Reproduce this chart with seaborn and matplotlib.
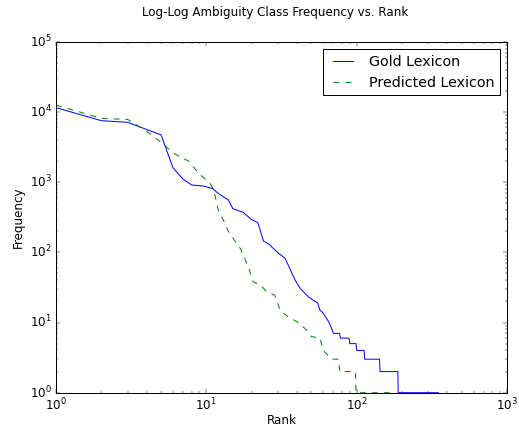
import matplotlib
matplotlib.use("Agg")
import matplotlib.pyplot as plt
import seaborn as sns

# ambiguity class frequency by rank
gold_rank = [1, 2, 3, 5, 6, 7, 8, 9.5, 11, 12, 14, 15, 17.6, 20, 22, 24, 26, 29.4,
             33.4, 36, 39, 42, 48, 55, 57, 60, 65, 67, 70, 77, 78, 89, 90, 99, 100,
             112, 113, 142, 143, 188, 189, 350]
gold_freq = [11500, 7500, 7100, 4700, 1600, 1100, 910, 880, 810, 690, 556, 420, 370,
             292, 265, 145, 131, 102, 82, 58, 40, 30.7, 23, 19, 15, 13.5, 10.3, 9, 7,
             7, 6, 6, 5, 5, 4, 4, 3, 3, 2, 2, 1, 1]

pred_rank = [1, 2, 3, 4, 5, 6, 7.6, 9, 10.6, 11.2, 12, 13, 14, 15, 16.8, 18, 19.5,
             20.5, 23, 25, 28.5, 31, 35, 40, 46, 50, 57, 60, 68, 76, 77, 98, 99, 170]
pred_freq = [12500, 8100, 7800, 5300, 3700, 2600, 2000, 1300, 960, 770, 400, 288, 200,
             160, 114, 82, 53, 38, 34, 28, 24.5, 15, 12, 10.3, 8, 6.3, 6, 4, 3, 3, 2,
             2, 1, 1]

plt.style.use("classic")
plt.rcParams["figure.facecolor"] = "white"
plt.rcParams["savefig.facecolor"] = "white"

DPI = 71.4
fig = plt.figure(figsize=(519 / DPI, 430 / DPI), dpi=DPI)
ax = fig.add_subplot(111)
fig.subplots_adjust(left=56 / 519, right=507 / 519, top=1 - 41.7 / 430, bottom=1 - 392.7 / 430)

sns.lineplot(x=gold_rank, y=gold_freq, color="b", sort=False, label="Gold Lexicon", ax=ax)
sns.lineplot(x=pred_rank, y=pred_freq, color="g", linestyle="--", sort=False,
             label="Predicted Lexicon", ax=ax)

ax.set_xscale("log")
ax.set_yscale("log")
ax.set_xlim(1, 1000)
ax.set_ylim(1, 1e5)
ax.set_xlabel("Rank", labelpad=1)
ax.set_ylabel("Frequency")
ax.legend(loc="upper right")
# original was cropped tight, so the title sits right of the figure centre
fig.suptitle("Log-Log Ambiguity Class Frequency vs. Rank", x=275 / 519, y=0.985)

plt.savefig("out.png", dpi=DPI)
